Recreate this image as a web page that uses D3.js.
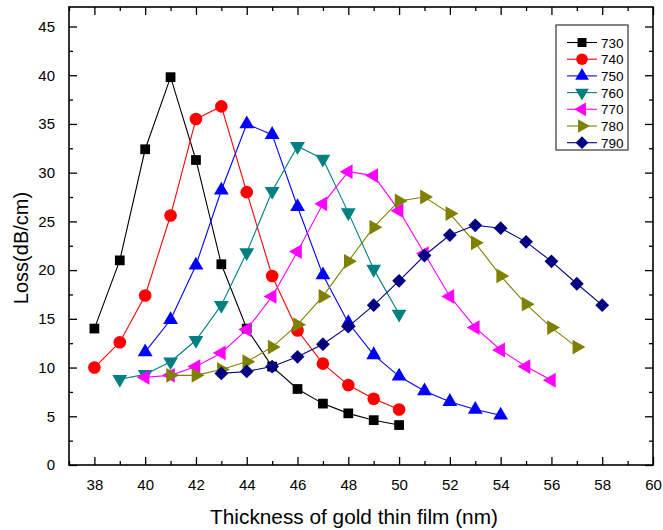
<!DOCTYPE html>
<head>
<meta charset="utf-8">
<title>Loss vs gold film thickness</title>
<style>
body { margin: 0; background: #fff; font-family: Arial, "Liberation Sans", sans-serif; }
.axis text { font-family: Arial, "Liberation Sans", sans-serif; font-size: 15px; fill: #000; }
.axis path, .axis line { stroke: #000; }
</style>
<script src="https://d3js.org/d3.v7.min.js"></script>
</head>
<body>
<script>
// data
var xTicks = [38, 40, 42, 44, 46, 48, 50, 52, 54, 56, 58, 60];
var yTicks = [0, 5, 10, 15, 20, 25, 30, 35, 40, 45];
var seriesNames = ["730", "740", "750", "760", "770", "780", "790"];
var x730 = [38, 39, 40, 41, 42, 43, 44, 45, 46, 47, 48, 49, 50];
var y730 = [14.0, 21.0, 32.4, 39.8, 31.3, 20.6, 14.0, 10.1, 7.8, 6.3, 5.3, 4.6, 4.1];
var x740 = [38, 39, 40, 41, 42, 43, 44, 45, 46, 47, 48, 49, 50];
var y740 = [10.0, 12.6, 17.4, 25.6, 35.5, 36.8, 28.0, 19.4, 13.8, 10.4, 8.2, 6.8, 5.7];
var x750 = [40, 41, 42, 43, 44, 45, 46, 47, 48, 49, 50, 51, 52, 53, 54];
var y750 = [11.6, 14.9, 20.5, 28.2, 35.0, 33.9, 26.5, 19.5, 14.6, 11.3, 9.1, 7.6, 6.5, 5.7, 5.1];
var x760 = [39, 40, 41, 42, 43, 44, 45, 46, 47, 48, 49, 50];
var y760 = [8.8, 9.3, 10.6, 12.8, 16.4, 21.8, 28.1, 32.7, 31.4, 25.9, 20.1, 15.5];
var x770 = [40, 41, 42, 43, 44, 45, 46, 47, 48, 49, 50, 51, 52, 53, 54, 55, 56];
var y770 = [9.0, 9.2, 10.1, 11.5, 13.9, 17.3, 21.9, 26.8, 30.1, 29.7, 26.1, 21.7, 17.3, 14.1, 11.8, 10.1, 8.7];
var x780 = [41, 42, 43, 44, 45, 46, 47, 48, 49, 50, 51, 52, 53, 54, 55, 56, 57];
var y780 = [9.2, 9.2, 9.8, 10.6, 12.1, 14.4, 17.3, 20.9, 24.4, 27.1, 27.5, 25.8, 22.8, 19.4, 16.5, 14.1, 12.1];
var x790 = [43, 44, 45, 46, 47, 48, 49, 50, 51, 52, 53, 54, 55, 56, 57, 58];
var y790 = [9.4, 9.6, 10.1, 11.1, 12.4, 14.2, 16.4, 18.9, 21.5, 23.6, 24.6, 24.3, 22.9, 20.9, 18.6, 16.4];

var xs = [x730, x740, x750, x760, x770, x780, x790];
var ys = [y730, y740, y750, y760, y770, y780, y790];
var colors = ["#000000", "#ff0000", "#0000ff", "#008080", "#ff00ff", "#808000", "#000080"];
// marker shape + rotation per series
var shapes = [
  { type: d3.symbolSquare, size: 95, rot: 0 },
  { type: d3.symbolCircle, size: 125, rot: 0 },
  { type: d3.symbolTriangle, size: 95, rot: 0 },
  { type: d3.symbolTriangle, size: 95, rot: 180 },
  { type: d3.symbolTriangle, size: 95, rot: -90 },
  { type: d3.symbolTriangle, size: 95, rot: 90 },
  { type: d3.symbolSquare, size: 95, rot: 45 }
];

var width = 663, height = 530;
var svg = d3.select("body").append("svg")
    .attr("width", width)
    .attr("height", height);

var x = d3.scaleLinear().domain([37, 60]).range([69, 653]);
var y = d3.scaleLinear().domain([0, 47]).range([465, 7]);

var minorX = d3.range(37, 60, 1).filter(function(d) { return d % 2 === 1; });
var minorY = d3.range(2.5, 47, 5);

// minor ticks (all four sides)
function minor(axisFn, scale, vals, tr) {
  svg.append("g").attr("class", "axis").attr("transform", tr)
    .call(axisFn(scale).tickValues(vals).tickSize(-4).tickFormat(""))
    .call(function(g) { g.select(".domain").remove(); });
}
minor(d3.axisBottom, x, minorX, "translate(0,465)");
minor(d3.axisTop, x, minorX, "translate(0,7)");
minor(d3.axisLeft, y, minorY, "translate(69,0)");
minor(d3.axisRight, y, minorY, "translate(653,0)");

// major ticks
svg.append("g").attr("class", "axis").attr("transform", "translate(0,465)")
  .call(d3.axisBottom(x).tickValues(xTicks).tickSizeInner(-8).tickSizeOuter(0).tickPadding(14))
  .call(function(g) { g.select(".domain").remove(); });
svg.append("g").attr("class", "axis").attr("transform", "translate(0,7)")
  .call(d3.axisTop(x).tickValues(xTicks).tickSizeInner(-8).tickSizeOuter(0).tickFormat(""))
  .call(function(g) { g.select(".domain").remove(); });
svg.append("g").attr("class", "axis").attr("transform", "translate(69,0)")
  .call(d3.axisLeft(y).tickValues(yTicks).tickSizeInner(-8).tickSizeOuter(0).tickPadding(14))
  .call(function(g) { g.select(".domain").remove(); });
svg.append("g").attr("class", "axis").attr("transform", "translate(653,0)")
  .call(d3.axisRight(y).tickValues(yTicks).tickSizeInner(-8).tickSizeOuter(0).tickFormat(""))
  .call(function(g) { g.select(".domain").remove(); });
svg.selectAll(".axis line").attr("stroke-width", 1.3);

// frame
svg.append("rect")
  .attr("x", x(37)).attr("y", y(47))
  .attr("width", x(60) - x(37)).attr("height", y(0) - y(47))
  .attr("fill", "none").attr("stroke", "#000").attr("stroke-width", 1.6);

// series
var line = d3.line().x(function(d) { return x(d[0]); }).y(function(d) { return y(d[1]); });
seriesNames.forEach(function(name, i) {
  var pts = xs[i].map(function(v, j) { return [v, ys[i][j]]; });
  var g = svg.append("g");
  g.append("path").datum(pts)
    .attr("d", line)
    .attr("fill", "none")
    .attr("stroke", colors[i])
    .attr("stroke-width", 1.1);
  g.selectAll("path.mk").data(pts).enter().append("path")
    .attr("class", "mk")
    .attr("d", d3.symbol().type(shapes[i].type).size(shapes[i].size))
    .attr("transform", function(d) { return "translate(" + x(d[0]) + "," + y(d[1]) + ") rotate(" + shapes[i].rot + ")"; })
    .attr("fill", colors[i]);
});

// legend
var leg = svg.append("g");
leg.append("rect")
  .attr("x", 556).attr("y", 25).attr("width", 72).attr("height", 125)
  .attr("fill", "#fff").attr("stroke", "#444").attr("stroke-width", 1.3);
seriesNames.forEach(function(name, i) {
  var ly = 42.5 + i * 16.7;
  leg.append("line")
    .attr("x1", 567).attr("x2", 597).attr("y1", ly).attr("y2", ly)
    .attr("stroke", colors[i]).attr("stroke-width", 1.1);
  leg.append("path")
    .attr("d", d3.symbol().type(shapes[i].type).size(shapes[i].size * 0.85))
    .attr("transform", "translate(582," + ly + ") rotate(" + shapes[i].rot + ")")
    .attr("fill", colors[i]);
  leg.append("text")
    .attr("x", 601).attr("y", ly + 5)
    .attr("font-size", "13.5px")
    .text(name);
});

// axis titles
svg.append("text")
  .attr("x", 354).attr("y", 524)
  .attr("text-anchor", "middle")
  .attr("font-size", "20.8px")
  .text("Thickness of gold thin film (nm)");
svg.append("text")
  .attr("transform", "translate(28,248) rotate(-90)")
  .attr("text-anchor", "middle")
  .attr("font-size", "20px")
  .text("Loss(dB/cm)");
</script>
</body>
